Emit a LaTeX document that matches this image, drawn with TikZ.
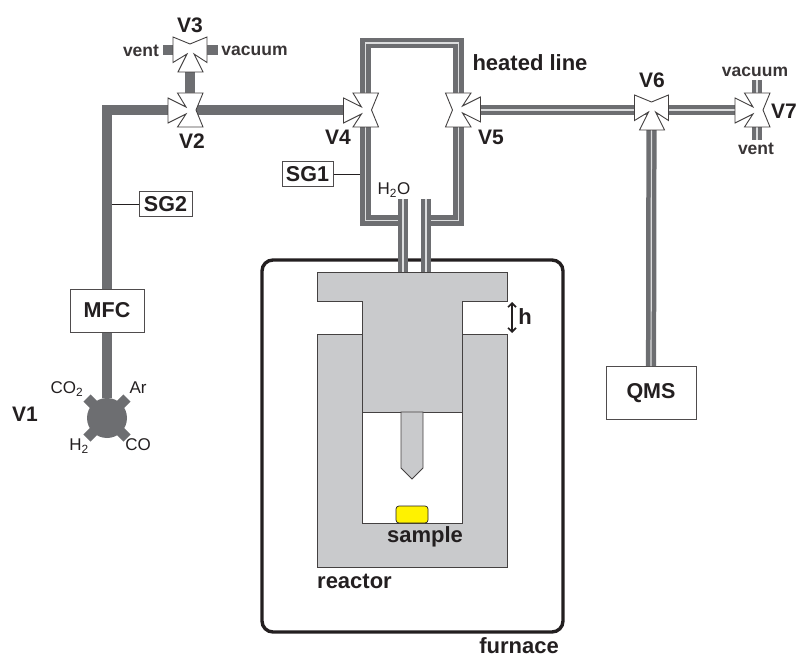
\documentclass[tikz,border=0pt]{standalone}
\usepackage{fontspec}
\setmainfont{Liberation Sans}
\usepackage{tikz}
\usetikzlibrary{
  positioning,
  arrows.meta
}
\definecolor{pipegray}{HTML}{6D6E71}
\definecolor{coregray}{HTML}{DCDDDE}
\definecolor{steelgray}{HTML}{C9CACC}
\definecolor{inkblack}{HTML}{231F20}
\definecolor{sampleyellow}{HTML}{FFF200}
\tikzset{
  pipe/.style={draw=pipegray,line width=10pt},
  heatedpipe/.style={draw=pipegray,double=coregray,double distance=1.2pt,line width=4.5pt},
  instrument/.style={draw=inkblack!80,fill=white,line width=1pt,font=\fontsize{21.5}{23}\selectfont\bfseries,inner sep=0pt,text=inkblack},
  steel/.style={draw=inkblack!85,fill=steelgray,line width=0.9pt},
  biglabel/.style={font=\fontsize{21}{23}\selectfont\bfseries,inner sep=0pt,text=inkblack},
  wordlabel/.style={font=\fontsize{22}{24}\selectfont\bfseries,inner sep=0pt,text=inkblack},
  portlabel/.style={font=\fontsize{17.5}{19}\selectfont\bfseries,inner sep=0pt,text=inkblack!90},
  gaslabel/.style={font=\fontsize{17}{19}\selectfont,inner sep=0pt,text=inkblack},
  valve/.pic={
    \draw [draw=inkblack!85,fill=white,line width=0.9pt,line join=miter]
      (-12.5,-17) -- (13,-17) -- (6,0) -- (13,17) -- (-12.5,17) -- (-4,4)
      -- (-22,13) -- (-22,-12) -- (-4,-3) -- cycle;
  }
}
\providecommand{\sizedsub}[1]{\textsubscript{#1}}
\begin{document}
\begin{tikzpicture}[x=1pt,y=-1pt]
    \useasboundingbox (0,0) rectangle (798,655);
    \coordinate (vtwo) at (190,110);
    \coordinate (vthree) at (190,50);
    \coordinate (vfour) at (365.5,110);
    \coordinate (vfive) at (458.5,110);
    \coordinate (vsix) at (651.5,108);
    \coordinate (vseven) at (757,110);
    \draw [draw=inkblack,line width=3.4pt,rounded corners=11pt] (262,260) rectangle (563,632);
    \draw [steel] (317,334) -- (362,334) -- (362,523) -- (462,523) -- (462,334) -- (507,334)
      -- (507,567) -- (317,567) -- cycle;
    \draw [steel] (317,272) -- (507,272) -- (507,301) -- (462,301) -- (462,412) -- (362,412)
      -- (362,301) -- (317,301) -- cycle;
    \draw [steel] (401,412) -- (423,412) -- (423,468) -- (412,479) -- (401,468) -- cycle;
    \node (sample) [draw=inkblack,fill=sampleyellow,rounded corners=3pt,line width=0.7pt,
      minimum width=32pt,minimum height=17pt,inner sep=0pt] at (412,514.5) {};
    \node (mfc) [instrument,minimum width=74pt,minimum height=43pt] at (107,310.5) {MFC};
    \node (qms) [instrument,minimum width=90pt,minimum height=53pt] at (651,393) {QMS};
    \node (sgone) [instrument,minimum width=51pt,minimum height=25pt] at (307.5,174.5) {SG1};
    \node (sgtwo) [instrument,minimum width=53pt,minimum height=25pt] at (165.5,204.5) {SG2};
    \node (vone) [circle,fill=pipegray,minimum size=40pt,inner sep=0pt] at (107,418) {};
    \coordinate (gasar) at (127,398);
    \coordinate (gasco) at (127,438);
    \coordinate (gashtwo) at (87,438);
    \coordinate (gascotwo) at (87,398);
    \coordinate (ventthree) at (163,50);
    \coordinate (vacthree) at (218,50);
    \coordinate (vacseven) at (757,80);
    \coordinate (ventseven) at (757,140);
    \coordinate (corner) at (vtwo -| mfc);
    \coordinate (looptl) at (365.5,43);
    \coordinate (looptr) at (458.5,43);
    \coordinate (loopbl) at (365.5,220.5);
    \coordinate (loopbr) at (458.5,220.5);
    \coordinate (inlettop) at (403,199);
    \coordinate (inletbase) at (403,272);
    \coordinate (outlettop) at (426,199);
    \coordinate (outletbase) at (426,272);
    \draw [draw=inkblack,line width=0.9pt] (sgone.east) -- (sgone.east -| vfour);
    \draw [draw=inkblack,line width=0.9pt] (sgtwo.west) -- (sgtwo.west -| mfc);
    \draw [pipe] (vfour) -- (vtwo) -- (corner) -- (mfc);
    \draw [pipe] (mfc) -- (vone);
    \draw [pipe] (vtwo) -- (vthree);
    \draw [pipe] (ventthree) -- (vacthree);
    \draw [pipe] (vone.center) -- (gasar);
    \draw [pipe] (vone.center) -- (gasco);
    \draw [pipe] (vone.center) -- (gashtwo);
    \draw [pipe] (vone.center) -- (gascotwo);
    \draw [heatedpipe] (inlettop |- loopbl) -- (loopbl) -- (looptl) -- (looptr) -- (loopbr) -- (outlettop |- loopbr);
    \draw [heatedpipe] (inlettop) -- (inletbase);
    \draw [heatedpipe] (outlettop) -- (outletbase);
    \draw [heatedpipe] (vfive) -- (vseven);
    \draw [heatedpipe] (vsix) -- (qms);
    \draw [heatedpipe] (vacseven) -- (ventseven);
    \pic at (vtwo) {valve};
    \pic [rotate=90] at (vthree) {valve};
    \pic at (vfour) {valve};
    \pic [rotate=180] at (vfive) {valve};
    \pic [rotate=90] at (vsix) {valve};
    \pic at (vseven) {valve};
    \coordinate (gaptop) at (512,302);
    \coordinate (gapbottom) at (512,333);
    \draw [inkblack,line width=1.6pt,{Straight Barb[length=4pt,width=8pt]}-{Straight Barb[length=4pt,width=8pt]}] (gaptop) -- (gapbottom);
    \node (gaplabel) [wordlabel] at (525,317) {h};
    \node (vonelabel) [biglabel] at (25,414) {V1};
    \node (vtwolabel) [biglabel] at (192,141) {V2};
    \node (vthreelabel) [biglabel] at (190,25) {V3};
    \node (vfourlabel) [biglabel] at (338,137) {V4};
    \node (vfivelabel) [biglabel] at (491,137) {V5};
    \node (vsixlabel) [biglabel] at (652,80) {V6};
    \node (vsevenlabel) [biglabel,anchor=east] at (797,111) {V7};
    \node (heatedlabel) [wordlabel] at (530,63) {heated line};
    \node (samplelabel) [wordlabel] at (425,537) {sample};
    \node (reactorlabel) [wordlabel,anchor=west] at (317,581) {reactor};
    \node (furnacelabel) [wordlabel,anchor=base] at (519,653) {furnace};
    \node (ventthreelabel) [portlabel] at (141,51) {vent};
    \node (vacthreelabel) [portlabel] at (254.5,51) {vacuum};
    \node (vacsevenlabel) [portlabel] at (755,72) {vacuum};
    \node (ventsevenlabel) [portlabel] at (756,149) {vent};
    \node (waterlabel) [gaslabel] at (394,190) {H\sizedsub{2}O};
    \node (cotwolabel) [gaslabel] at (67,389) {CO\sizedsub{2}};
    \node (arlabel) [gaslabel] at (138,388) {Ar};
    \node (htwolabel) [gaslabel] at (79,446) {H\sizedsub{2}};
    \node (colabel) [gaslabel] at (138,445) {CO};
  \end{tikzpicture}
\end{document}
